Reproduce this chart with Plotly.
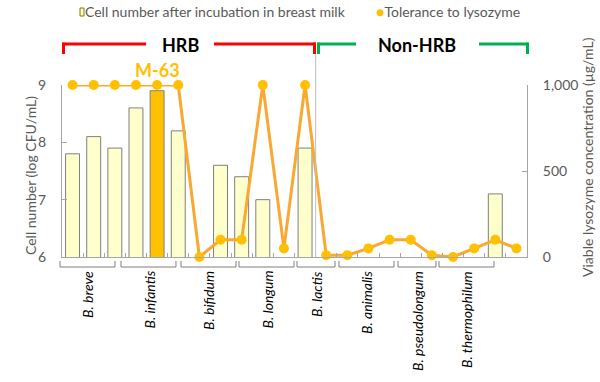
import plotly.graph_objects as go

# ---------------- data ----------------
strains = ["B. breve", "B. infantis", "B. bifidum", "B. longum",
           "B. lactis", "B. animalis", "B. pseudolongum", "B. thermophilum"]
strain_counts = [3, 3, 3, 3, 2, 3, 2, 3]
cell_number = [7.8, 8.1, 7.9, 8.6, 8.9, 8.2,
               None, 7.6, 7.4, 7.0, None, 7.9,
               None, None, None, None, None, None, None, None, 7.1, None]
lysozyme = [1000, 1000, 1000, 1000, 1000, 1000,
            0, 100, 100, 1000, 50, 1000,
            10, 10, 50, 100, 100, 10, 0, 50, 100, 50]
highlight_index = 4  # M-63
highlight_label = "M-63"
group_names = ["HRB", "Non-HRB"]
group_sizes = [12, 10]
left_ticks = [6, 7, 8, 9]
right_ticks = [0, 500, 1000]
legend_labels = ["Cell number after incubation in breast milk", "Tolerance to lysozyme"]

n = len(cell_number)
xs = list(range(n))

FONT = "Lato"
GRAY = "#595959"
AXIS = "#A6A6A6"

# plot area pixel geometry
L, R, T, B = 62, 527, 85, 257
W, H = 600, 382


def xp(px):
    return (px - L) / (R - L)


def yp(py):
    return (B - py) / (B - T)


bar_colors = ["#FFC000" if i == highlight_index else "#FFFFCC" for i in range(n)]

fig = go.Figure()
fig.add_trace(go.Bar(
    x=xs, y=cell_number, yaxis="y", width=0.66,
    marker=dict(color=bar_colors, line=dict(color="#7F7F7F", width=1)),
    showlegend=False, hoverinfo="skip",
))
fig.add_trace(go.Scatter(
    x=xs, y=lysozyme, yaxis="y2", mode="lines+markers",
    line=dict(color="#F9A832", width=3),
    marker=dict(color="#FFC000", size=10, line=dict(width=0)),
    cliponaxis=False, showlegend=False, hoverinfo="skip",
))

shapes = []
annotations = []


def note(text, x, y, size=14, color=GRAY, xanchor="center", yanchor="middle", angle=0, xref="paper"):
    annotations.append(dict(text=text, x=x, y=y, xref=xref, yref="paper",
                            xanchor=xanchor, yanchor=yanchor, textangle=angle,
                            showarrow=False, font=dict(family=FONT, size=size, color=color)))


# group divider
div_x = group_sizes[0] - 0.5
shapes.append(dict(type="line", xref="x", yref="paper", x0=div_x, x1=div_x,
                   y0=0, y1=yp(42), line=dict(color="#BFBFBF", width=1)))


# top group brackets
def top_bracket(x0, x1, gap0, gap1, color):
    yh = yp(44)
    yl = yp(54)
    shapes.append(dict(type="line", xref="paper", yref="paper", x0=xp(x0), x1=xp(gap0),
                       y0=yh, y1=yh, line=dict(color=color, width=3)))
    shapes.append(dict(type="line", xref="paper", yref="paper", x0=xp(gap1), x1=xp(x1),
                       y0=yh, y1=yh, line=dict(color=color, width=3)))
    shapes.append(dict(type="line", xref="paper", yref="paper", x0=xp(x0 + 1.5), x1=xp(x0 + 1.5),
                       y0=yh + 0.008, y1=yl, line=dict(color=color, width=3)))
    shapes.append(dict(type="line", xref="paper", yref="paper", x0=xp(x1 - 1.5), x1=xp(x1 - 1.5),
                       y0=yh + 0.008, y1=yl, line=dict(color=color, width=3)))


top_bracket(62, 316, 146, 214, "#FF0000")
top_bracket(317, 529, 356, 479, "#00B050")
note("<b>%s</b>" % group_names[0], xp(180), yp(45), size=18, color="black")
note("<b>%s</b>" % group_names[1], xp(417), yp(45), size=18, color="black")

# M-63 label
note("<b>%s</b>" % highlight_label, highlight_index, yp(70), size=18, color="#FFC000", xref="x")

# bottom strain brackets (as drawn in reference, slightly compressed)
bracket_px = [(60, 115), (121, 176), (181, 236), (239, 294),
              (297, 335), (339, 394), (398, 436), (439, 494)]
for name, (a, b) in zip(strains, bracket_px):
    yb = yp(267)
    yt = yp(261)
    shapes.append(dict(type="path", xref="paper", yref="paper",
                       path="M %f %f L %f %f L %f %f L %f %f" % (xp(a), yt, xp(a), yb, xp(b), yb, xp(b), yt),
                       line=dict(color="#7F7F7F", width=1)))
    note("<i>%s</i>" % name, xp((a + b) / 2), yp(269), size=14, color="black", yanchor="top", angle=-90)

# axis titles
note("Cell number (log CFU/mL)", xp(30), yp(176), angle=-90)
note("Viable lysozyme concentration (µg/mL)", xp(587), yp(157), angle=-90)

# custom legend
shapes.append(dict(type="rect", xref="paper", yref="paper", x0=xp(80), x1=xp(84), y0=yp(16), y1=yp(8),
                   fillcolor="#FFFFCC", line=dict(color="#7F7F00", width=1)))
note(legend_labels[0], xp(83), yp(12), xanchor="left")
note("<span style='color:#FFC000'>●</span>" + legend_labels[1], xp(522), yp(12), xanchor="right")

fig.update_layout(
    width=W, height=H,
    margin=dict(l=L, r=W - R, t=T, b=H - B),
    paper_bgcolor="white", plot_bgcolor="white",
    bargap=0.34,
    font=dict(family=FONT, color=GRAY, size=14),
    xaxis=dict(range=[-0.5, n - 0.5], showgrid=False, zeroline=False,
               showline=True, linecolor=AXIS, linewidth=1,
               tickvals=[i + 0.5 for i in range(n - 1)], ticks="inside", ticklen=4,
               tickcolor=AXIS, showticklabels=False),
    yaxis=dict(range=[left_ticks[0], left_ticks[-1]], tickvals=left_ticks, showgrid=False,
               zeroline=False, showline=True, linecolor=AXIS, linewidth=1,
               ticks="inside", ticklen=5, tickcolor=AXIS, ticklabelstandoff=12,
               tickfont=dict(family=FONT, size=14, color=GRAY)),
    yaxis2=dict(range=[right_ticks[0], right_ticks[-1]], tickvals=right_ticks, tickformat=",",
                overlaying="y", side="right", showgrid=False, zeroline=False,
                showline=True, linecolor=AXIS, linewidth=1,
                ticks="inside", ticklen=5, tickcolor=AXIS, ticklabelstandoff=12,
                tickfont=dict(family=FONT, size=14, color=GRAY)),
    shapes=shapes, annotations=annotations,
)

fig.write_html("out.html", config={"displayModeBar": False},
               post_script="document.body.style.margin='0';document.body.style.padding='0';")
